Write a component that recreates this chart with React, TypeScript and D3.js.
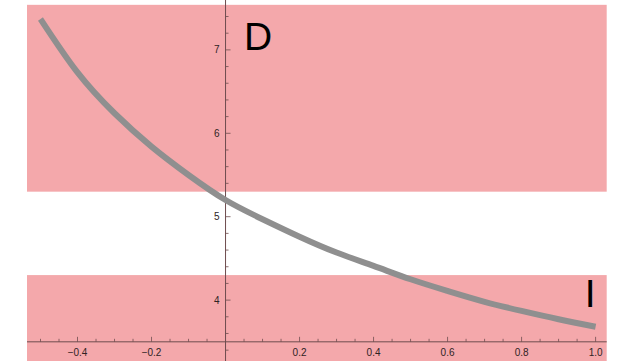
import React, { useRef, useEffect } from 'react';
import * as d3 from 'd3';

const WIDTH = 621;
const HEIGHT = 361;

// curve
const xValues = [-0.5, -0.4, -0.3, -0.2, -0.1, 0, 0.1, 0.2, 0.3, 0.4, 0.5, 0.6, 0.7, 0.8, 0.9, 1.0];
const yValues = [7.37, 6.73, 6.24, 5.84, 5.5, 5.2, 4.97, 4.76, 4.57, 4.41, 4.25, 4.11, 3.98, 3.87, 3.77, 3.68];

// shaded regions (y ranges)
const bandLow = [3.27, 4.3];
const bandHigh = [5.3, 7.54];

const xTicks = [-0.4, -0.2, 0.2, 0.4, 0.6, 0.8, 1.0];
const yTicks = [4, 5, 6, 7];
const regionLabels = [
    { text: 'D', x: 0.05, y: 7.0 },
    { text: 'I', x: 0.985, y: 3.915 },
];

export default function App() {
    const svgRef = useRef<SVGSVGElement | null>(null);

    useEffect(() => {
        const svg = d3.select(svgRef.current);
        svg.selectAll('*').remove();

        const x = d3.scaleLinear().domain([-0.5365, 1.03]).range([27, 606.7]);
        const y = d3.scaleLinear().domain([3.27, 7.538]).range([361, 5]);

        // pink bands
        svg.append('g')
            .selectAll('rect')
            .data([bandLow, bandHigh])
            .join('rect')
            .attr('x', x(-0.5365))
            .attr('width', x(1.03) - x(-0.5365))
            .attr('y', d => y(d[1]))
            .attr('height', d => y(d[0]) - y(d[1]))
            .attr('fill', '#f4a8ab');

        const axisColor = '#6e4c4e';
        const labelColor = '#2e2324';

        // x axis at y = 3.5
        const xAxisY = y(3.5);
        svg.append('line')
            .attr('x1', x(-0.5365)).attr('x2', x(1.03))
            .attr('y1', xAxisY).attr('y2', xAxisY)
            .attr('stroke', axisColor).attr('stroke-width', 1);

        const xMinor = d3.range(-0.5, 1.0001, 0.05).filter(v => Math.abs(v) > 1e-6);
        svg.append('g')
            .selectAll('line')
            .data(xMinor)
            .join('line')
            .attr('x1', d => x(d)).attr('x2', d => x(d))
            .attr('y1', xAxisY)
            .attr('y2', d => {
                const major = Math.abs(Math.round(d * 5) - d * 5) < 1e-6;
                return xAxisY - (major ? 5 : 3);
            })
            .attr('stroke', axisColor).attr('stroke-width', 0.8);

        svg.append('g')
            .selectAll('text')
            .data(xTicks)
            .join('text')
            .attr('x', d => x(d))
            .attr('y', xAxisY + 14)
            .attr('text-anchor', 'middle')
            .attr('font-family', 'Liberation Sans, Arial, sans-serif')
            .attr('font-size', '10px')
            .attr('fill', labelColor)
            .text(d => (d < 0 ? '\u2212' : '') + Math.abs(d).toFixed(1));

        // y axis at x = 0
        const yAxisX = x(0);
        svg.append('line')
            .attr('x1', yAxisX).attr('x2', yAxisX)
            .attr('y1', 0).attr('y2', HEIGHT)
            .attr('stroke', axisColor).attr('stroke-width', 1);

        const yMinor = d3.range(3.4, 7.6, 0.2);
        svg.append('g')
            .selectAll('line')
            .data(yMinor)
            .join('line')
            .attr('x1', yAxisX)
            .attr('x2', d => yAxisX + (Math.abs(d - Math.round(d)) < 1e-6 ? 5 : 3))
            .attr('y1', d => y(d)).attr('y2', d => y(d))
            .attr('stroke', axisColor).attr('stroke-width', 0.8);

        svg.append('g')
            .selectAll('text')
            .data(yTicks)
            .join('text')
            .attr('x', yAxisX - 6)
            .attr('y', d => y(d) + 3.5)
            .attr('text-anchor', 'end')
            .attr('font-family', 'Liberation Sans, Arial, sans-serif')
            .attr('font-size', '10px')
            .attr('fill', labelColor)
            .text(d => d);

        // curve
        const pts = xValues.map((v, i) => [v, yValues[i]] as [number, number]);
        const line = d3.line<[number, number]>()
            .x(d => x(d[0]))
            .y(d => y(d[1]))
            .curve(d3.curveNatural);

        svg.append('path')
            .datum(pts)
            .attr('d', line)
            .attr('fill', 'none')
            .attr('stroke', '#8f8f8f')
            .attr('stroke-width', 6);

        // region labels
        svg.append('g')
            .selectAll('text')
            .data(regionLabels)
            .join('text')
            .attr('x', d => x(d.x))
            .attr('y', d => y(d.y))
            .attr('text-anchor', d => (d.text === 'I' ? 'middle' : 'start'))
            .attr('font-family', 'Liberation Sans, Arial, sans-serif')
            .attr('font-size', '39px')
            .attr('fill', '#000')
            .text(d => d.text);
    }, []);

    return (
        <div style={{ position: 'absolute', left: 0, top: 0, width: WIDTH, height: HEIGHT, background: '#fff' }}>
            <svg ref={svgRef} width={WIDTH} height={HEIGHT} />
        </div>
    );
}
